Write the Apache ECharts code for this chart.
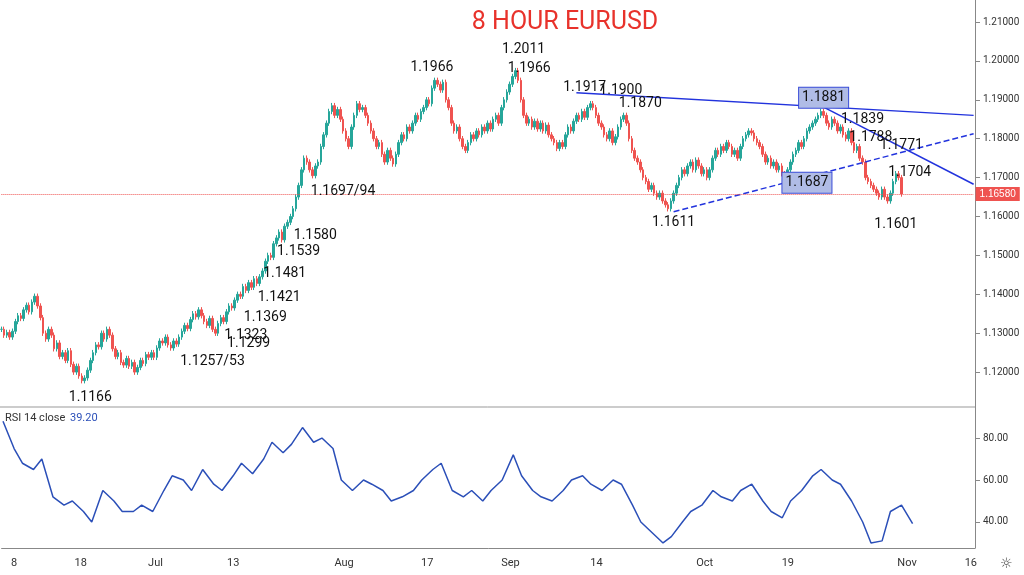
<!DOCTYPE html><html><head><meta charset="utf-8">
<script src="https://cdn.jsdelivr.net/npm/echarts@6/dist/echarts.min.js"></script>
<style>html,body{margin:0;padding:0;background:#fff}#c{width:1024px;height:575px}</style></head><body><div id="c"></div>
<script>
const closes=[1.1310,1.1295,1.1302,1.1290,
1.1305,1.1330,1.1345,1.1338,1.1360,1.1372,1.1355,1.1380,1.1395,1.1370,
1.1340,1.1300,1.1285,1.1310,1.1295,1.1260,1.1275,1.1240,
1.1250,1.1230,1.1255,1.1220,1.1200,1.1215,1.1190,1.1178,1.1185,1.1205,
1.1230,1.1250,1.1270,1.1265,1.1300,1.1285,1.1310,1.1295,
1.1260,1.1240,1.1250,1.1225,1.1218,1.1235,1.1215,1.1225,1.1200,1.1212,1.1230,1.1222,1.1245,1.1238,
1.1250,1.1238,1.1262,1.1280,1.1275,1.1290,1.1270,1.1262,1.1280,1.1272,1.1290,
1.1305,1.1320,1.1312,1.1335,1.1350,1.1342,1.1360,1.1345,1.1330,1.1320,1.1338,
1.1310,1.1300,1.1325,1.1340,1.1330,1.1355,1.1370,
1.1365,1.1385,1.1400,1.1395,1.1420,1.1410,1.1430,1.1418,1.1440,1.1428,1.1445,
1.1460,1.1485,1.1500,1.1495,1.1530,1.1545,1.1560,1.1540,1.1575,1.1585,1.1600,
1.1620,1.1650,1.1680,1.1720,1.1750,1.1740,1.1720,1.1705,1.1730,1.1740,
1.1780,1.1810,1.1840,1.1870,1.1885,1.1860,1.1875,
1.1850,1.1820,1.1800,1.1780,1.1830,1.1860,1.1890,1.1875,1.1880,1.1860,1.1840,
1.1820,1.1800,1.1780,1.1790,1.1760,1.1740,1.1770,1.1750,1.1735,1.1760,1.1790,
1.1810,1.1800,1.1830,1.1820,1.1840,1.1860,1.1850,1.1870,1.1880,1.1900,1.1890,
1.1930,1.1950,1.1940,1.1925,1.1945,1.1900,1.1880,
1.1840,1.1820,1.1830,1.1800,1.1780,1.1770,1.1790,1.1810,1.1800,1.1820,1.1810,
1.1830,1.1820,1.1840,1.1825,1.1850,1.1860,1.1840,1.1880,1.1900,1.1920,1.1940,
1.1960,1.1975,1.1950,1.1900,1.1860,1.1840,1.1850,
1.1830,1.1845,1.1825,1.1840,1.1820,1.1835,1.1810,1.1800,1.1790,1.1775,1.1790,
1.1780,1.1810,1.1830,1.1820,1.1845,1.1860,1.1850,1.1870,1.1855,1.1880,1.1890,
1.1880,1.1860,1.1840,1.1830,1.1810,1.1800,1.1820,1.1790,1.1805,1.1830,1.1850,
1.1860,1.1840,1.1800,1.1770,1.1750,1.1740,1.1720,
1.1700,1.1690,1.1670,1.1680,1.1660,1.1650,1.1660,1.1640,1.1630,1.1620,1.1640,
1.1660,1.1680,1.1700,1.1720,1.1710,1.1730,1.1740,1.1720,1.1745,1.1730,1.1710,
1.1720,1.1700,1.1720,1.1750,1.1770,1.1760,1.1780,1.1770,1.1790,1.1780,
1.1760,1.1770,1.1750,1.1780,1.1800,1.1810,1.1820,1.1815,1.1800,1.1790,1.1780,
1.1760,1.1740,1.1750,1.1730,1.1740,1.1720,1.1730,1.1710,1.1700,1.1720,
1.1740,1.1760,1.1770,1.1790,1.1780,1.1800,1.1820,1.1830,1.1840,1.1850,1.1860,
1.1870,1.1860,1.1840,1.1830,1.1850,1.1840,1.1820,1.1830,1.1810,1.1800,1.1820,
1.1790,1.1770,1.1780,1.1750,1.1740,1.1700,1.1690,1.1680,1.1670,1.1660,1.1650,
1.1670,1.1650,1.1640,1.1660,1.1690,1.1710,1.1700,1.1658];
const rsiVals=[88,75,68,65,70,52,48,50,45,40,55,50,45,45,48,45,55,62,60,55,65,58,55,62,68,63,70,78,73,77,85,78,80,75,60,55,60,58,55,50,52,55,60,65,68,55,52,55,50,55,60,72,62,55,52,50,55,60,62,58,55,60,58,48,40,35,30,33,40,45,48,55,52,50,55,58,50,45,42,50,55,62,65,60,58,50,40,30,31,45,48,39.2];
const priceTicks=[1.12,1.13,1.14,1.15,1.16,1.17,1.18,1.19,1.20,1.21];
const rsiTicks=[40,60,80];
const dateLabels={"0":"8","24":"18","51":"Jul","79":"13","119":"Aug","149":"17","179":"Sep","210":"14","249":"Oct","279":"19","322":"Nov","345":"16"};
const notes=[["1.1166",28,1.1166,'bottom'],["1.1257/53",72,1.1258,'bottom'],["1.1299",85,1.1305,'bottom'],["1.1323",84,1.1325,'bottom'],["1.1369",91,1.137,'bottom'],["1.1421",96,1.1423,'bottom'],["1.1481",98,1.1485,'bottom'],["1.1539",103,1.1542,'bottom'],["1.1580",109,1.1583,'bottom'],["1.1697/94",119,1.1696,'bottom'],["1.1966",151,1.1952,'top'],["1.2011",184,1.1999,'top'],["1.1966",186,1.1950,'top'],["1.1917",206,1.1900,'top'],["1.1900",219,1.1892,'top'],["1.1870",226,1.1860,'top'],["1.1611",238,1.1616,'bottom'],["1.1839",306,1.1818,'top'],["1.1788",309,1.1772,'top'],["1.1771",320,1.1752,'top'],["1.1704",323,1.1683,'top'],["1.1601",318,1.1611,'bottom']];
const boxed=[["1.1881",292,1.1905],["1.1687",286,1.1687]];
const lastPrice=1.1658;
const nCat=351, firstIdx=-4;
const cats=[];for(let i=0;i<nCat;i++)cats.push(String(firstIdx+i));
const ohlc=[];let prev=closes[0];
for(let i=0;i<nCat;i++){if(i<closes.length){const c=closes[i],o=prev;ohlc.push([o,c,Math.min(o,c)-0.0007,Math.max(o,c)+0.0007]);prev=c;}else ohlc.push('-');}
const rsiData=rsiVals.map((v,k)=>[Math.round(3.6*k),v]);
const ch=echarts.init(document.getElementById('c'));
const F='Roboto, sans-serif';
ch.setOption({animation:false,
title:{text:'8 HOUR EURUSD',left:560,top:5,textAlign:'center',textStyle:{color:'#e8322b',fontSize:25,fontWeight:'normal',fontFamily:F}},
grid:[{left:0,right:49,top:0,height:407},{left:0,right:49,top:407,bottom:27}],
xAxis:[{type:'category',data:cats,gridIndex:0,axisLine:{show:false},axisTick:{show:false},axisLabel:{show:false}},
{type:'category',data:cats,gridIndex:1,axisLine:{lineStyle:{color:'#888'}},axisTick:{show:false},
 axisLabel:{interval:0,color:'#333',fontSize:11,fontFamily:F,margin:10,formatter:v=>dateLabels[v]||''}}],
yAxis:[{type:'value',gridIndex:0,position:'right',min:1.11103,max:1.21566,splitLine:{show:false},axisLine:{show:true,lineStyle:{color:'#888'}},
 axisTick:{show:true,customValues:priceTicks},axisLabel:{customValues:priceTicks,formatter:v=>v.toFixed(5),fontSize:10,color:'#333',fontFamily:F}},
{type:'value',gridIndex:1,position:'right',min:27.6,max:94.8,splitLine:{show:false},axisLine:{show:true,lineStyle:{color:'#888'}},
 axisTick:{show:true,customValues:rsiTicks},axisLabel:{customValues:rsiTicks,formatter:v=>v.toFixed(2),fontSize:10,color:'#333',fontFamily:F}}],
series:[{type:'candlestick',data:ohlc,barWidth:2,itemStyle:{color:'#26a69a',color0:'#ef5350',borderColor:'#26a69a',borderColor0:'#ef5350'},
 markPoint:{symbolSize:0,label:{show:true,color:'#111',fontSize:14,fontFamily:F},
  data:notes.map(n=>({coord:[String(n[1]),n[2]],value:n[0],label:{formatter:n[0],position:n[3]=='top'?'top':'bottom'}}))
   .concat(boxed.map(b=>({coord:[String(b[1]),b[2]],value:b[0],label:{formatter:b[0],position:'inside',backgroundColor:'#b0bce6',borderColor:'#3b4ed8',borderWidth:1,padding:[3,3]}})))},
 markLine:{symbol:'none',silent:true,label:{show:false},data:[
  [{coord:['203',1.1918]},{coord:['346',1.1860]}],
  [{coord:['292',1.1881]},{coord:['346',1.1683]}],
  [{coord:['238',1.1612],lineStyle:{type:'dashed'}},{coord:['346',1.1813]}],
  [{coord:['-4',lastPrice],lineStyle:{color:'#ef5350',type:'dotted',width:1}},{coord:['346',lastPrice],label:{show:true,position:'end',formatter:lastPrice.toFixed(5),backgroundColor:'#ef5350',color:'#fff',padding:[2,4],fontSize:10,distance:2}}]
 ],lineStyle:{color:'#2233dd',width:1.5,type:'solid'}}},
{type:'line',xAxisIndex:1,yAxisIndex:1,data:rsiData,showSymbol:false,lineStyle:{color:'#2b4fb8',width:1.5}}],
graphic:[{type:'text',left:5,top:413,style:{text:'RSI 14 close',fill:'#333',font:'11px Roboto'}},
{type:'text',left:70,top:413,style:{text:'39.20',fill:'#2b4fb8',font:'11px Roboto'}},
{type:'line',shape:{x1:0,y1:407,x2:975,y2:407},style:{stroke:'#999',lineWidth:1}},
{type:'text',left:1000,top:557,style:{text:'☼',fill:'#444',font:'14px "DejaVu Sans"'}}]
});
</script></body></html>
